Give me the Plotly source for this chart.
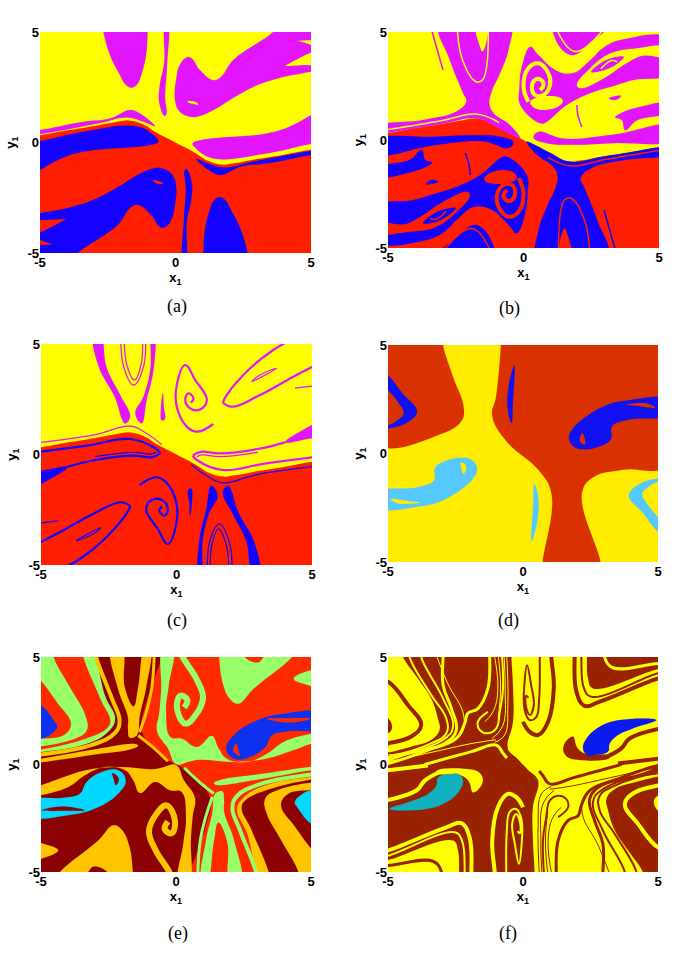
"""Six basin-of-attraction panels drawn as filled regions in x1/y1 data space."""

import plotly.graph_objects as go

TICKS = [-5, 0, 5]
PANEL_NAMES = ["(a)", "(b)", "(c)", "(d)", "(e)", "(f)"]

# Boundary between the upper and the lower basin, left to right
DIVIDE = [(-6, .22), (-5, .33), (-4, .55), (-3, .75), (-2.2, .93), (-1.7, 1.0), (-1.2, .83), (-.7, .45), (0, 0),
          (.7, -.45), (1.2, -.83), (1.7, -1.0), (2.2, -.93), (3, -.75), (4, -.55), (5, -.33), (6, -.22)]

# ── (a) ──
A_MAGENTA = [
    [(-2.7, 5.4), (-2.66, 5), (-2.4, 3.9), (-2.05, 3.05), (-1.85, 2.62), (-1.62, 2.48), (-1.42, 2.62), (-1.25, 3.1), (-1.08, 4), (-1.03, 5), (-1.02, 5.4)],
    [(-.38, 5.4), (-.42, 3.6), (-.58, 2.6), (-.6, 1.8), (-.4, 1.2), (-.33, 1.3), (-.38, 2.0), (-.31, 3.5), (-.28, 5.4)],
    [(.41, 3.85), (.15, 3.5), (.04, 2.98), (-.02, 1.92), (.15, 1.4), (.53, 1.16), (.9, 1.2), (1.4, 1.47), (2.38, 2.2), (3.36, 2.75), (5, 3.2), (5.4, 3.25),
     (5.4, 5.4), (3.85, 5.4), (3.6, 5), (2.13, 3.73), (1.7, 3.0), (1.4, 2.82), (.9, 3.28), (.6, 3.8)],
    [(-5.4, .5), (-5, .56), (-3.4, .94), (-2.42, 1.09), (-1.68, 1.47), (-1.31, 1.31), (-.76, .74), (-1.19, .94),
     (-1.8, 1.13), (-2.79, .88), (-5, .38), (-5.4, .34)],
    [(.63, -.05), (.9, .1), (3.36, .41), (4.2, .71), (5, 1.24), (5.4, 1.5), (5.4, -.03), (5, -.07), (3.36, -.5),
     (1.4, -.72), (.78, -.3)],
]
A_YELLOW = [
    [(4.04, 3.46), (4.04, 3.46), (5.4, 4.15), (5.4, 3.6), (4.6, 3.5)],
    [(4.53, 4.6), (4.53, 4.6), (5.4, 4.55), (5.4, 4.3), (4.8, 4.5)],
    [(.44, 1.86), (.7, 1.85), (.84, 1.72), (.6, 1.75)],
]

# ── (b) ──
B_MAGENTA = [
    [(-3.09, 5.4), (-2.72, 3.7), (-2.23, 2.16), (-2.11, 1.78), (-2.48, 1.32), (-3.71, .93), (-5.4, .62), (-5.4, .26),
     (-5, .33), (-3, .75), (-1.7, 1.0), (-1, .6), (-.3, .15), (-.12, .08), (-.5, .7), (-1.1, 1.24), (-1.26, 1.7),
     (-1.17, 2.25), (-.86, 3.1), (-.55, 4.2), (-.52, 5.4)],
    [(.25, 4.32), (.55, 3.93), (1.23, 3.2), (1.84, 3.1), (2.4, 3.62), (3.0, 4.32), (3.7, 4.66), (5.4, 4.7), (5.4, 3.1),
     (4.06, 2.78), (3.32, 2.5), (2.46, 2.16), (1.6, 1.62), (.8, .8), (.61, .77), (-.12, 1.62), (-.15, 2.47), (-.06, 3.4)],
    [(1.13, 5.4), (1.17, 4.7), (1.6, 4.0), (1.9, 3.95), (2.46, 4.5), (3.2, 5.4)],
    [(5.4, 1.7), (4.2, 1.5), (3.57, 1.23), (3.38, 1.05), (3.63, .92), (3.75, .46), (4.2, .92), (5.4, 1.3)],
    [(3.14, 1.93), (3.6, 2.05), (3.4, 1.85)],
    [(.37, .1), (.55, .38), (1.48, .07), (3.32, .25), (5.4, .65), (5.4, 0), (3.32, -.15), (1.83, -.22), (.84, -.15)],
]
B_YELLOW = [
    [(-1.75, 5.4), (-1.6, 4.3), (-1.52, 4.1), (-1.4, 4.4), (-1.35, 5.4)],
    [(1.97, 2.55), (2.46, 3.32), (3.2, 4.0), (4.2, 4.25), (5.4, 4.3), (5.4, 3.85), (4.4, 3.9), (3.8, 3.55), (2.95, 2.85), (2.1, 2.4)],
    [(.25, 1.77), (.49, 1.96), (1.35, 1.96), (1.45, 1.77), (1.04, 1.43), (.37, 1.51)],
]
B_MAGENTA_INNER = [[(2.5, 3.15), (3.05, 3.7), (3.7, 3.85), (3.3, 3.4), (2.7, 3.15)]]
B_YELLOW_SPIRAL = [
    [(.18, 1.77), (.0, 2.47), (.18, 3.32), (.55, 3.55), (.92, 3.08), (.98, 2.55), (.74, 2.08), (.43, 2.08), (.31, 2.47), (.43, 2.78), (.61, 2.81), (.74, 2.55), (.61, 2.31)],
]
B_YELLOW_LINES = [
    [(-2.45, 5.4), (-2.25, 3.7), (-1.75, 2.7), (-1.5, 2.8), (-1.3, 5.4)],
    [(-5, .48), (-3, .9), (-1.75, 1.2), (-.9, .8)],
    [(2.85, 3.3), (3.25, 3.68), (3.45, 3.62)],
    [(1.2, 5.2), (1.9, 4.1), (3.0, 5.2)],
]
B_MAGENTA_LINES = [
    [(-3.46, 5.4), (-2.97, 3.24)],
    [(1.97, 1.62), (2.0, 1.2), (2.15, .6)],
]

# ── (c) ──
C_MAGENTA = [
    [(-3.06, 5.4), (-2.88, 4), (-2.26, 2.54), (-2.0, 1.56), (-1.9, 1.4), (-1.71, 1.71), (-2.08, 2.7), (-2.57, 3.9), (-2.81, 5.4)],
    [(-1.52, 1.86), (-1.22, 2.62), (-.97, 3.82), (-.91, 5.4), (-.82, 5.4), (-.85, 3.82), (-1.1, 2.47), (-1.28, 1.41)],
    [(-.5, 2.78), (-.58, 2.0), (-.55, 1.55), (-.43, 1.6), (-.47, 2.2)],
    [(4, .55), (4.5, 1.0), (5.4, 1.45), (5.4, .95), (4.6, .65)],
]
C_MAGENTA_LINES_WIDE = [
    [(1.36, 1.38), (.75, 1.03), (.38, 1.26), (.01, 2.16), (.01, 3.14), (.32, 4.05), (.69, 3.37), (1.12, 2.47), (.87, 2.04), (.5, 2.09), (.32, 2.47), (.44, 2.77), (.63, 2.54), (.53, 2.35)],
    [(1.71, 2.35), (2.04, 2.16), (3.08, 2.69), (4.31, 3.52), (5.4, 4.2)],
    [(4.25, 5.2), (3.57, 4.73), (2.72, 3.9), (1.85, 2.69), (1.71, 2.35)],
    [(.6, -.05), (.9, .12), (1.6, .05), (3, .25), (4, .55)],
    [(.6, -.05), (.75, -.25), (1.7, -.7), (3.3, -.4), (5.4, -.07)],
]
C_MAGENTA_LINES_THIN = [
    [(-2.05, 5.4), (-1.95, 3.97), (-1.58, 3.14), (-1.22, 3.97), (-1.15, 5.4)],
    [(-1.93, 5.4), (-1.83, 4.05), (-1.55, 3.37), (-1.31, 4.05), (-1.25, 5.4)],
    [(2.78, 3.3), (3.7, 3.9), (3.08, 3.6), (2.78, 3.3)],
    [(4.37, 3.0), (5.4, 3.15)],
    [(-5, .55), (-3, .9), (-1.7, 1.28), (-1.1, .95), (-.55, .45)],
    [(.75, -.1), (.95, -.02), (1.6, -.1), (3, .1)],
]

# ── (d) ──
D_RED = [
    [(-5.4, 5.4), (-2.96, 5.4), (-2.96, 5), (-2.59, 3.53), (-2.2, 2.15), (-2.28, 1.5), (-3.08, .88), (-5.4, .45)],
    [(-.82, 5.4), (-.82, 5), (-1.0, 2.6), (-1.14, 1.75), (-.64, .6), (.6, -.8), (1.06, -1.9), (.73, -5), (.73, -5.4),
     (2.87, -5.4), (2.87, -5), (2.18, -1.85), (2.6, -1.1), (3.7, -.75), (5.4, -.5), (5.4, 5.4)],
]
D_BLUE = [
    [(-5.4, 3.9), (-5, 3.6), (-4.45, 2.75), (-3.92, 1.93), (-4.32, 1.4), (-5, 1.15), (-5.4, 1.1), (-5.4, 1.3), (-5, 1.3),
     (-4.69, 1.5), (-4.42, 1.84), (-4.63, 2.37), (-5, 2.91), (-5.4, 3.3)],
    [(-.32, 4.05), (-.55, 2.95), (-.55, 1.9), (-.42, 1.4), (-.38, 2.25)],
    [(1.7, .75), (1.85, 1.15), (2.18, 1.55), (3.05, 2.2), (3.9, 2.45), (5.4, 2.5), (5.4, 1.8), (3.9, 1.55), (3.3, 1.25), (3.25, .65),
     (2.72, .28), (2.2, .2), (1.85, .35)],
]
D_RED_CUTS = [
    [(2.1, .65), (2.2, .95), (2.3, .42), (2.15, .5)],
    [(3.8, 2.25), (4.6, 2.3), (4.9, 2.1), (4.2, 2.2)],
]

# ── (e) ──
E_MAROON = [
    [(-3.15, 5.4), (-2.63, 3.2), (-2.26, 2.1), (-2.55, 1.48), (-3.4, .93), (-5, .58), (-5.4, .52), (-5.4, -.3), (-.2, -.3), (-.2, 0),
     (-.6, .55), (-1.26, 1.51), (-1.1, 2.9), (-.8, 4.0), (-.6, 5.4)],
]
E_GREEN = [
    [(-5.4, 5.4), (-4.53, 5.4), (-4.53, 5), (-3.9, 3.53), (-3.36, 2.28), (-3.3, 1.6), (-3.75, 1.2), (-5.4, .9), (-5.4, 1.1),
     (-4.16, 1.36), (-3.89, 1.9), (-4.41, 2.9), (-5, 3.9), (-5.4, 4.4)],
    [(-3.44, 5.4), (-2.8, 3.06), (-2.43, 2.05), (-2.56, 1.67), (-3.54, 1.12), (-5, .7), (-5.4, .62),
     (-5.4, .52), (-5, .58), (-3.4, .93), (-2.55, 1.48), (-2.26, 2.1), (-2.63, 3.2), (-3.15, 5.4)],
    [(-.48, 5.4), (-.55, 3.5), (-.62, 2.4), (-.7, 1.55), (-.3, .75), (0, .02), (.53, .15), (.9, .22), (2.14, .12), (3.37, .28),
     (4.3, .65), (5, .97), (5.4, 1.1), (5.4, 1.5), (5, 1.43), (3.99, 1.05), (3.37, .5), (2.63, .12), (1.88, .27), (1.58, .74), (1.33, 1.33),
     (.78, .81), (.22, 1.2), (-.21, 1.28), (-.37, 2.44), (-.27, 3.68), (-.11, 5.4)],
    [(1.58, 5.4), (1.6, 5), (1.72, 3.84), (2.0, 3.05), (2.32, 2.83), (2.88, 3.53), (4.3, 5), (4.5, 5.4)],
    [(5.4, 4.4), (5, 4.38), (4.36, 3.99), (5, 3.65), (5.4, 3.5)],
]
E_ORANGE = [
    [(-2.4, 5.4), (-2.15, 3.53), (-1.78, 2.2), (-1.78, 1.7), (-1.72, 1.25), (-1.5, 1.3), (-1.4, 1.5), (-1.35, 2.2), (-1.1, 3.6), (-.95, 5.4),
     (-1.15, 5.4), (-1.4, 3.6), (-1.57, 2.7), (-1.9, 3.6), (-2.0, 5.4)],
    [(-5.4, .22), (-5, .27), (-2.93, .72), (-1.52, .95), (-1.4, .87), (-1.7, .7), (-2.93, .48), (-5, .1), (-5.4, .05)],
]
E_RED_CUTS = [
    [(2.5, 5.4), (2.55, 5), (3.05, 4.75), (3.25, 5), (3.6, 5.4)],
    [(3.37, 2.13), (4.0, 2.15), (4.98, 2.13), (4.2, 1.95)],
    [(2.23, .97), (2.12, .65), (2.36, .4), (2.3, .7)],
]
E_GREEN_LINES_WIDE = [
    [(.15, 5.4), (.25, 5), (.75, 4.0), (1.0, 3.1), (.72, 2.29), (.35, 1.9), (.04, 2.6), (.16, 3.2), (.42, 3.0), (.3, 2.65)],
]
E_ORANGE_LINES_WIDE = [
    [(-3.0, 5.4), (-2.96, 5), (-2.37, 3.06), (-2.09, 2.05), (-2.25, 1.48), (-3.17, .89), (-5, .46), (-5.4, .4)],
]
E_ORANGE_LINES_THIN = [
    [(-.8, 5.4), (-.9, 3.53), (-1.1, 2.44), (-1.35, 1.5)],
    [(-1.4, 1.35), (-.9, .85), (-.3, .15)],
]
E_BLUE = [
    [(-5.4, 2.9), (-5, 2.75), (-4.5, 2.0), (-4.4, 1.75), (-4.7, 1.35), (-5, 1.2), (-5.4, 1.1)],
    [(1.86, .74), (2.14, 1.36), (3, 2.05), (3.99, 2.36), (5.4, 2.4), (5.4, 1.7), (4.11, 1.54), (3.56, 1.36), (3.31, .81),
     (2.75, .35), (2.14, .27)],
]

# ── (f) ──
F_MASS = [
    [(-4.5, 5.4), (-4.44, 5), (-3.89, 4.0), (-3.4, 3.07), (-3.15, 2.14), (-3.09, 1.6), (-3.4, 1.14), (-4.14, .83), (-5, .56),
     (-5.4, .5), (-5.4, -.8), (.3, -.8), (.56, -.75), (.2, -.27), (0, 0), (-.2, .27), (-.56, .75), (-.37, 1.99), (-.37, 3.54), (-.43, 5), (-.43, 5.4)],
]
F_MAROON = [
    [(-5.4, 2.3), (-5, 2.15), (-4.85, 1.7), (-5, 1.45), (-5.4, 1.35)],
    [(2.37, 5.4), (2.37, 5), (2.41, 4.0), (2.59, 3.54), (5, 4.44), (5.4, 4.5), (5.4, 5.4)],
    [(1.85, 1.3), (1.5, .85), (1.6, .4), (2.2, .2), (3.2, .3), (3.2, .42), (2.3, .5), (2.0, .8)],
]
F_MAROON_LINES_WIDE = [
    [(-5.4, 3.9), (-5, 3.85), (-4.26, 2.76), (-3.77, 1.84), (-4.14, 1.3), (-5, .98), (-5.4, .9)],
    [(1.91, 5.4), (1.91, 5), (1.98, 3.38), (2.28, 2.73), (2.84, 2.92), (5, 4.0), (5.4, 4.1)],
    [(1.05, 5.4), (1.05, 5), (1.14, 3.54), (.93, 1.99), (.56, 1.37), (.25, 1.52), (0, 1.99)],
    [(3.1, .36), (3.64, .75), (3.95, 1.21), (5.4, 1.75)],
    [(3.52, .05), (5.4, .33)],
]
F_MAROON_LINES_THIN = [
    [(2.16, 5.4), (2.16, 5), (2.26, 3.54), (2.53, 3.15), (5, 4.24), (5.4, 4.3)],
    [(.62, 5.4), (.62, 5), (.6, 3.1), (.49, 2.2), (.25, 2.07), (.06, 2.55), (.06, 3.85), (.15, 4.62), (.3, 3.7), (.4, 2.76), (.25, 2.3), (.1, 2.76), (.12, 3.2), (.2, 3.1)],
]
F_YELLOW_LINES_WIDE = [
    [(-2.96, 5.4), (-2.96, 5), (-2.96, 3.7), (-2.65, 2.6), (-2.47, 1.6), (-2.9, .98), (-4.26, .52), (-5, .2), (-5.4, .12)],
    [(-1.23, 5.4), (-1.23, 5), (-1.3, 3.54), (-1.67, 2.6), (-2.04, 2.38), (-2.16, 1.91), (-2.47, 1.21), (-3.52, .67), (-5, .05), (-5.4, .0)],
    [(-3.64, 0), (-1.91, .6), (-.99, .9), (-.74, .52), (-.6, .3)],
    [(3.02, 5.4), (3.02, 5), (3.33, 4.5), (5, 4.7), (5.4, 4.68)],
]
F_YELLOW_LINES_THIN = [
    [(-4.2, 5.4), (-4.2, 5), (-3.4, 3.23), (-2.84, 2.14), (-2.84, 1.45), (-3.4, .98), (-5, .36), (-5.4, .3)],
    [(-3.77, 5.4), (-3.77, 5), (-2.96, 3.07), (-2.59, 1.76), (-2.9, 1.2), (-5, .28), (-5.4, .22)],
    [(-1.3, 2.45), (-1.67, 1.99), (-1.6, 1.6), (-1.3, 1.45), (-.99, 1.68), (-.86, 2.45), (-.74, 3.54), (-.8, 5.4)],
]
F_YELLOW_LINES_FINE = [
    [(-1.11, 5.4), (-.93, 3.54), (-1.11, 2.45), (-1.42, 1.99)],
    [(-.62, 5.4), (-.56, 2.76), (-.68, 1.37), (-1.05, 1.03)],
    [(-.72, 5.4), (-.66, 3.5), (-.75, 1.8), (-1.15, 1.2)],
    [(-.95, 5.4), (-.83, 3.6), (-.92, 2.2)],
    [(-5, .44), (-3, .9), (-2.3, 1.4), (-2.2, 2.3), (-2.8, 3.8), (-3.3, 5.4)],
    [(-5, .12), (-3.2, .62), (-1.8, 1.0), (-1.0, 1.15)],
]
F_BLUE = [[(2.22, .75), (2.35, 1.21), (2.84, 1.76), (3.58, 2.07), (4.94, 2.07), (4.07, 1.68), (3.52, 1.37), (3.21, .98), (3.15, .6),
           (2.65, .44), (2.35, .47)]]

WHOLE_PLOT = [(-6, -6), (6, -6), (6, 6), (-6, 6)]
UPPER_HALF = DIVIDE + [(6, 6), (-6, 6)]
FLAT_UPPER = [(-6, 0), (6, 0), (6, 6), (-6, 6)]

# Plot frames in window pixels: left, right, top, bottom
FRAMES = [(40, 311, 32, 253), (388, 659, 32, 248), (41, 312, 344, 565),
          (388, 658, 345, 562), (41, 311, 657, 872), (388, 658, 657, 872)]
LABEL_POS = [(177, 307), (509, 308), (177, 620), (508, 620), (178, 933), (508, 933)]
W, H = 677, 959

YELLOW, MAGENTA, RED, BLUE = "#FFFF00", "#E315FF", "#FF1E00", "#1400FF"
D_YELLOW, D_RED_C, D_BLUE_C, D_SKY = "#FFEC00", "#D93200", "#1010F0", "#55C8FF"
E_RED_C, E_MAROON_C, E_ORANGE_C, E_GREEN_C, E_BLUE_C, E_CYAN = "#FF2A00", "#8B0000", "#FFC400", "#99FF66", "#1030F0", "#00D8FF"
F_YELLOW, F_MAROON_C, F_BLUE_C, F_TEAL = "#FFFF00", "#992200", "#0A1AF0", "#10B0C0"

fig = go.Figure()


def flip(shapes):
    """Point reflection through the origin, the symmetry of every panel."""
    return [[(-x, -y) for x, y in pts] for pts in shapes]


def fills(panel, shapes, color, smooth=True):
    for pts in shapes:
        ring = pts + pts[:1]
        fig.add_trace(go.Scatter(
            x=[p[0] for p in ring], y=[p[1] for p in ring],
            xaxis=f"x{panel}", yaxis=f"y{panel}",
            mode="lines", fill="toself", fillcolor=color,
            line=dict(width=0.1, color=color, shape="spline" if smooth else "linear", smoothing=1.2, simplify=False),
            hoverinfo="skip", showlegend=False,
        ))


def strokes(panel, shapes, color, width):
    for pts in shapes:
        fig.add_trace(go.Scatter(
            x=[p[0] for p in pts], y=[p[1] for p in pts],
            xaxis=f"x{panel}", yaxis=f"y{panel}",
            mode="lines", line=dict(width=width, color=color, shape="spline", smoothing=1.2, simplify=False),
            hoverinfo="skip", showlegend=False,
        ))


# (a)
fills(1, [WHOLE_PLOT], RED, smooth=False)
fills(1, [UPPER_HALF], YELLOW)
fills(1, A_MAGENTA, MAGENTA)
fills(1, flip(A_MAGENTA), BLUE)
fills(1, A_YELLOW, YELLOW)
fills(1, flip(A_YELLOW), RED)

# (b)
fills(2, [WHOLE_PLOT], RED, smooth=False)
fills(2, [UPPER_HALF], YELLOW)
fills(2, B_MAGENTA, MAGENTA)
fills(2, flip(B_MAGENTA), BLUE)
fills(2, B_YELLOW, YELLOW)
fills(2, flip(B_YELLOW), RED)
fills(2, B_MAGENTA_INNER, MAGENTA)
fills(2, flip(B_MAGENTA_INNER), BLUE)
strokes(2, B_YELLOW_SPIRAL, YELLOW, 4)
strokes(2, flip(B_YELLOW_SPIRAL), RED, 4)
strokes(2, B_YELLOW_LINES, YELLOW, 1.5)
strokes(2, flip(B_YELLOW_LINES), RED, 1.5)
strokes(2, B_MAGENTA_LINES, MAGENTA, 1.5)
strokes(2, flip(B_MAGENTA_LINES), BLUE, 1.5)

# (c)
fills(3, [WHOLE_PLOT], RED, smooth=False)
fills(3, [UPPER_HALF], YELLOW)
fills(3, C_MAGENTA, MAGENTA)
fills(3, flip(C_MAGENTA), BLUE)
strokes(3, C_MAGENTA_LINES_WIDE, MAGENTA, 2.2)
strokes(3, flip(C_MAGENTA_LINES_WIDE), BLUE, 2.2)
strokes(3, C_MAGENTA_LINES_THIN, MAGENTA, 1.2)
strokes(3, flip(C_MAGENTA_LINES_THIN), BLUE, 1.2)

# (d)
fills(4, [WHOLE_PLOT], D_YELLOW, smooth=False)
fills(4, D_RED, D_RED_C)
fills(4, D_BLUE, D_BLUE_C)
fills(4, flip(D_BLUE), D_SKY)
fills(4, D_RED_CUTS, D_RED_C)
fills(4, flip(D_RED_CUTS), D_YELLOW)

# (e)
fills(5, [WHOLE_PLOT], E_MAROON_C, smooth=False)
fills(5, [UPPER_HALF], E_RED_C)
fills(5, flip(E_MAROON), E_RED_C)
fills(5, E_MAROON, E_MAROON_C)
fills(5, E_GREEN, E_GREEN_C)
fills(5, flip(E_GREEN), E_ORANGE_C)
fills(5, E_ORANGE, E_ORANGE_C)
fills(5, flip(E_ORANGE), E_GREEN_C)
strokes(5, E_GREEN_LINES_WIDE, E_GREEN_C, 6)
strokes(5, flip(E_GREEN_LINES_WIDE), E_ORANGE_C, 6)
strokes(5, E_ORANGE_LINES_WIDE, E_ORANGE_C, 4)
strokes(5, flip(E_ORANGE_LINES_WIDE), E_GREEN_C, 4)
strokes(5, E_ORANGE_LINES_THIN, E_ORANGE_C, 3)
strokes(5, flip(E_ORANGE_LINES_THIN), E_GREEN_C, 3)
fills(5, E_BLUE, E_BLUE_C)
fills(5, flip(E_BLUE), E_CYAN)
fills(5, E_RED_CUTS, E_RED_C)
fills(5, flip(E_RED_CUTS), E_MAROON_C)

# (f)
fills(6, [WHOLE_PLOT], F_MAROON_C, smooth=False)
fills(6, [FLAT_UPPER], F_YELLOW, smooth=False)
fills(6, F_MASS, F_MAROON_C)
fills(6, flip(F_MASS), F_YELLOW)
fills(6, F_MAROON, F_MAROON_C)
fills(6, flip(F_MAROON), F_YELLOW)
strokes(6, F_MAROON_LINES_WIDE, F_MAROON_C, 4)
strokes(6, flip(F_MAROON_LINES_WIDE), F_YELLOW, 4)
strokes(6, F_MAROON_LINES_THIN, F_MAROON_C, 2)
strokes(6, flip(F_MAROON_LINES_THIN), F_YELLOW, 2)
strokes(6, F_YELLOW_LINES_WIDE, F_YELLOW, 3)
strokes(6, flip(F_YELLOW_LINES_WIDE), F_MAROON_C, 3)
strokes(6, F_YELLOW_LINES_THIN, F_YELLOW, 2)
strokes(6, flip(F_YELLOW_LINES_THIN), F_MAROON_C, 2)
strokes(6, F_YELLOW_LINES_FINE, F_YELLOW, 1)
strokes(6, flip(F_YELLOW_LINES_FINE), F_MAROON_C, 1)
fills(6, F_BLUE, F_BLUE_C)
fills(6, flip(F_BLUE), F_TEAL)

layout = dict(
    template=None,
    width=W, height=H, margin=dict(l=0, r=0, t=0, b=0, pad=0), autosize=False,
    paper_bgcolor="white", plot_bgcolor="white",
    font=dict(family="Liberation Sans", color="black"),
)
annotations = []
for i, (left, right, top, bottom) in enumerate(FRAMES):
    n = i + 1
    tick_font = dict(family="Liberation Sans", size=13, color="black", weight="bold")
    title_font = dict(family="Liberation Sans", size=13, color="black", weight="bold")
    layout[f"xaxis{n}"] = dict(
        domain=[left / W, right / W], range=[-5, 5], anchor=f"y{n}", automargin=False,
        tickvals=TICKS, ticktext=[str(t) for t in TICKS], ticklen=0, tickfont=tick_font,
        showgrid=False, zeroline=False, showline=False, ticks="",
        title=dict(text="x<sub>1</sub>", font=title_font, standoff=0),
    )
    layout[f"yaxis{n}"] = dict(
        domain=[1 - bottom / H, 1 - top / H], range=[-5, 5], anchor=f"x{n}", automargin=False,
        tickvals=TICKS, ticktext=[str(t) for t in TICKS], ticklen=0, tickfont=tick_font,
        showgrid=False, zeroline=False, showline=False, ticks="",
        title=dict(text="y<sub>1</sub>", font=title_font, standoff=8),
    )
    lx, ly = LABEL_POS[i]
    annotations.append(dict(
        text=PANEL_NAMES[i], x=lx / W, y=1 - ly / H, xref="paper", yref="paper",
        showarrow=False, xanchor="center", yanchor="middle",
        font=dict(family="Liberation Serif", size=18, color="black"),
    ))
layout["annotations"] = annotations
fig.update_layout(**layout)

fig.write_html("out.html", config={"displayModeBar": False}, post_script="document.body.style.margin='0';")
